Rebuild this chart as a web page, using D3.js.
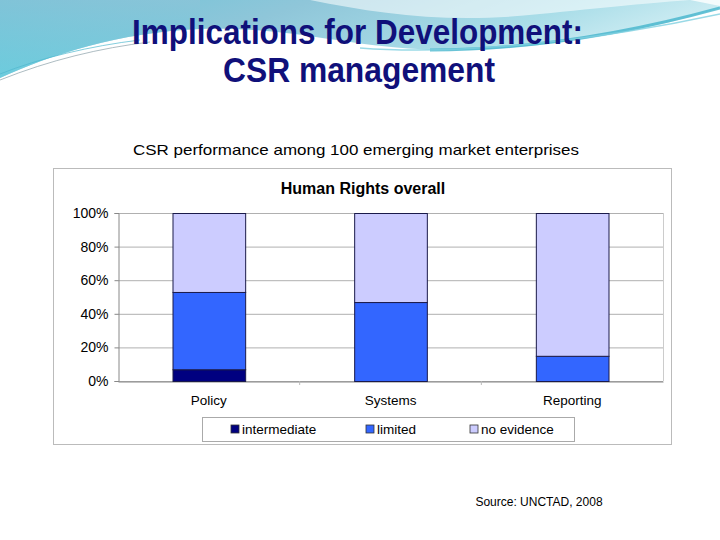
<!DOCTYPE html>
<html><head><meta charset="utf-8">
<script src="https://cdn.jsdelivr.net/npm/d3@7"></script>
<style>body{margin:0;background:#fff;}svg{display:block;font-family:"Liberation Sans",Arial,sans-serif;}</style>
</head><body><svg id="c" width="720" height="540"></svg>
<script>
const categories = ["Policy", "Systems", "Reporting"];
const seriesNames = ["intermediate", "limited", "no evidence"];
const intermediate = [7, 0, 0];
const limited = [46, 47, 15];
const noEvidence = [47, 53, 85];
const yTicks = [0, 20, 40, 60, 80, 100];
const colors = ["#000080", "#3366FF", "#CCCCFF"];

(function(){
const svg = d3.select("#c");
const defs = svg.append("defs");
const g1 = defs.append("linearGradient").attr("id","sw1").attr("x1",0).attr("x2",1).attr("y1",0).attr("y2",0.3);
g1.append("stop").attr("offset","0%").attr("stop-color","#6cc3d8");
g1.append("stop").attr("offset","40%").attr("stop-color","#8fc6d9");
g1.append("stop").attr("offset","75%").attr("stop-color","#a9dde8");
g1.append("stop").attr("offset","100%").attr("stop-color","#d6f0f5");
const g3 = defs.append("linearGradient").attr("id","sw3").attr("x1",0).attr("x2",0).attr("y1",0).attr("y2",1);
g3.append("stop").attr("offset","0%").attr("stop-color","#8ec4d8");
g3.append("stop").attr("offset","100%").attr("stop-color","#5cd0e0");

// decorative swooshes
svg.append("path").attr("d","M0,0 L720,0 L720,8 C650,30 560,48 460,50 C360,52 300,26 200,29 C120,32 50,55 0,78 Z").attr("fill","url(#sw1)");
svg.append("path").attr("d","M0,0 L200,0 L200,29 C120,32 50,55 0,78 Z").attr("fill","url(#sw3)").attr("opacity",0.6);
svg.append("path").attr("d","M310,0 C380,14 450,24 540,14 C600,8 660,2 690,0 Z").attr("fill","#ffffff").attr("opacity",0.55);
svg.append("path").attr("d","M690,0 L720,0 L720,6 C710,4 700,2 690,0 Z").attr("fill","#ffffff").attr("opacity",0.8);
svg.append("path").attr("d","M430,50 C540,50 640,30 720,8").attr("fill","none").attr("stroke","#43b4cc").attr("stroke-width",3).attr("opacity",0.8);
svg.append("path").attr("d","M360,48 C460,56 600,40 720,14").attr("fill","none").attr("stroke","#7fcfe0").attr("stroke-width",1.5).attr("opacity",0.8);
svg.append("path").attr("d","M0,80 C50,60 100,48 150,42").attr("fill","none").attr("stroke","#8aa0a8").attr("stroke-width",1).attr("opacity",0.7);
svg.append("path").attr("d","M0,74 C40,58 90,46 140,40").attr("fill","none").attr("stroke","#4fb8cf").attr("stroke-width",1).attr("opacity",0.7);

// slide title
svg.append("text").attr("x",132).attr("y",44).attr("textLength",451).attr("lengthAdjust","spacingAndGlyphs")
  .attr("font-size",35).attr("font-weight","bold").attr("fill","#10107a").text("Implications for Development:");
svg.append("text").attr("x",223).attr("y",82).attr("textLength",272).attr("lengthAdjust","spacingAndGlyphs")
  .attr("font-size",35).attr("font-weight","bold").attr("fill","#10107a").text("CSR management");
svg.append("text").attr("x",133).attr("y",155).attr("textLength",446).attr("lengthAdjust","spacingAndGlyphs")
  .attr("font-size",15).attr("fill","#000").text("CSR performance among 100 emerging market enterprises");

// chart frame
svg.append("rect").attr("x",53.5).attr("y",168.5).attr("width",618).attr("height",276).attr("fill","#fff").attr("stroke","#bbbbbb");
svg.append("text").attr("x",363).attr("y",194).attr("text-anchor","middle").attr("font-size",16).attr("font-weight","bold").text("Human Rights overall");

const pL = 118, pR = 663, pT = 213, pB = 381;
const x = d3.scaleBand().domain(categories).range([pL, pR]).paddingInner(0.6).paddingOuter(0.3);
const y = d3.scaleLinear().domain([0, 100]).range([pB, pT]);

// gridlines
svg.append("g").selectAll("line").data(yTicks).join("line")
  .attr("x1",pL).attr("x2",pR).attr("y1",d=>y(d)+0.5).attr("y2",d=>y(d)+0.5)
  .attr("stroke","#b0b0b0").attr("stroke-width",1);

// y axis
const ya = svg.append("g").attr("transform",`translate(${pL+0.5},0)`)
  .call(d3.axisLeft(y).tickValues(yTicks).tickFormat(d=>d+"%").tickSize(4).tickPadding(6));
ya.select(".domain").attr("stroke","#888");
ya.selectAll(".tick line").attr("stroke","#888");
ya.selectAll("text").attr("font-size",14).attr("font-family","Liberation Sans, Arial, sans-serif").attr("fill","#000");

// x axis
const xa = svg.append("g").attr("transform",`translate(0,${pB+0.5})`)
  .call(d3.axisBottom(x).tickSize(0).tickPadding(14));
xa.select(".domain").attr("stroke","#888");
xa.selectAll("text").attr("font-size",13.5).attr("font-family","Liberation Sans, Arial, sans-serif").attr("fill","#000");
const step = x.step();
svg.append("g").selectAll("line").data(categories.slice(1)).join("line")
  .attr("x1",d=>x(d)-(step-x.bandwidth())/2).attr("x2",d=>x(d)-(step-x.bandwidth())/2)
  .attr("y1",pB).attr("y2",pB+4).attr("stroke","#bbb");
svg.append("line").attr("x1",pR+0.5).attr("x2",pR+0.5).attr("y1",pT).attr("y2",pB).attr("stroke","#ccc");

// stacked bars
const table = categories.map((c,i)=>({cat:c, "intermediate":intermediate[i], "limited":limited[i], "no evidence":noEvidence[i]}));
const stack = d3.stack().keys(seriesNames)(table);
svg.append("g").selectAll("g").data(stack).join("g").attr("fill",(d,i)=>colors[i])
  .selectAll("rect").data(d=>d.filter(p=>p[1]-p[0]>0)).join("rect")
  .attr("x",d=>x(d.data.cat)+0.5).attr("width",x.bandwidth())
  .attr("y",d=>y(d[1])+0.5).attr("height",d=>y(d[0])-y(d[1]))
  .attr("stroke","#1a1a4a").attr("stroke-width",1);

// legend
svg.append("rect").attr("x",202.5).attr("y",417.5).attr("width",372).attr("height",24).attr("fill","#fff").attr("stroke","#aaa");
const lx = [231, 366, 470];
const lg = svg.append("g").selectAll("g").data(seriesNames).join("g").attr("transform",(d,i)=>`translate(${lx[i]},429)`);
lg.append("rect").attr("x",0).attr("y",-4).attr("width",8).attr("height",8).attr("fill",(d,i)=>colors[i]).attr("stroke","#333").attr("stroke-width",0.8);
lg.append("text").attr("x",11).attr("y",4.5).attr("font-size",13.5).text(d=>d);

// source
svg.append("text").attr("x",539).attr("y",506).attr("text-anchor","middle").attr("font-size",12).text("Source: UNCTAD, 2008");
})();
</script></body></html>
